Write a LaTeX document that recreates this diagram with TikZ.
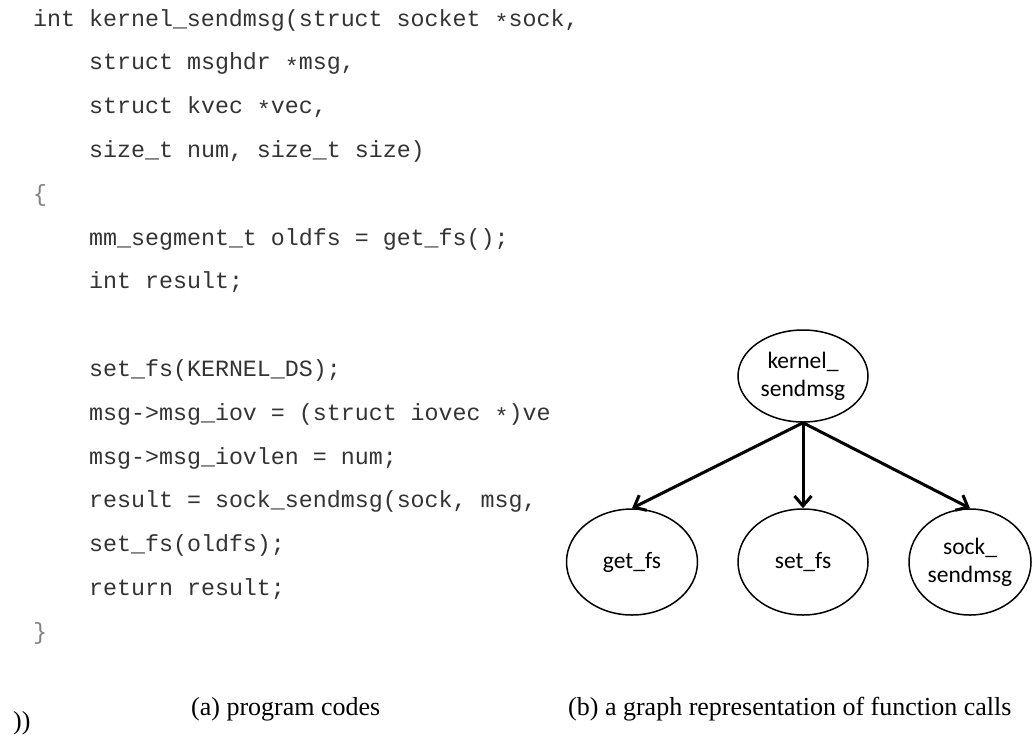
\documentclass[tikz,border=0pt]{standalone}
\usepackage{fontspec}
\setmainfont{Liberation Serif}
\setmonofont{Liberation Mono}
\newfontfamily\callfont{Carlito}
\usetikzlibrary{shapes.geometric,arrows.meta}

\newcommand\cstar{\raisebox{-0.35ex}{*}}

\tikzset{
  code/.style={anchor=base west, inner sep=0pt, text=black!80,
    font=\ttfamily\fontsize{23.3}{28}\selectfont},
  brace/.style={code, text=black!50},
  call/.style={ellipse, draw, line width=1.5pt, inner sep=0pt,
    minimum width=130pt, minimum height=106pt, align=center,
    font=\callfont\fontsize{23.5}{28}\selectfont},
  callarrow/.style={line width=3pt, -{Straight Barb[length=10pt,width=17pt]}},
  caption/.style={anchor=base west, inner sep=0pt,
    font=\fontsize{26}{30}\selectfont}
}

\begin{document}
\begin{tikzpicture}[x=1pt, y=-1pt]
  \useasboundingbox (0,0) rectangle (1032,742);

  % (a) the program text
  \node[code]  (l0)  at (33,26)    {int kernel\_sendmsg(struct socket \cstar sock,};
  \node[code]  (l1)  at (89,69.8)  {struct msghdr \cstar msg,};
  \node[code]  (l2)  at (89,113.6) {struct kvec \cstar vec,};
  \node[code]  (l3)  at (89,157.4) {size\_t num, size\_t size)};
  \node[brace] (l4)  at (33,201.2) {\{};
  \node[code]  (l5)  at (89,245)   {mm\_segment\_t oldfs = get\_fs();};
  \node[code]  (l6)  at (89,288.8) {int result;};
  % l7 is the empty line
  \node[code]  (l8)  at (89,376.4) {set\_fs(KERNEL\_DS);};
  \begin{scope}
    \clip (0,380) rectangle (548,530);
    \node[code] (l9)  at (89,420.2) {msg->msg\_iov = (struct iovec \cstar)ve};
    \node[code] (l11) at (89,507.8) {result = sock\_sendmsg(sock, msg,};
  \end{scope}
  \node[code]  (l10) at (89,464)   {msg->msg\_iovlen = num;};
  \node[code]  (l12) at (89,551.6) {set\_fs(oldfs);};
  \node[code]  (l13) at (89,595.4) {return result;};
  \node[brace] (l14) at (33,639.2) {\}};

  % (b) the call graph
  \node[call, minimum height=92pt] (kernel) at (803,376) {kernel\_\\sendmsg};
  \node[call, minimum width=131pt] (getfs) at (632,562) {get\_fs};
  \node[call] (setfs) at (803,562) {set\_fs};
  \node[call, minimum width=122pt] (sock) at (970,562) {sock\_\\sendmsg};

  \draw[callarrow] (kernel.south) -- (getfs.north);
  \draw[callarrow] (kernel.south) -- (setfs.north);
  \draw[callarrow] (kernel.south) -- (sock.north);

  % captions
  \node[caption] (stray) at (13,729) {))};
  \node[caption] (capa) at (191,715) {(a) program codes};
  \node[caption] (capb) at (568,715) {(b) a graph representation of function calls};
\end{tikzpicture}
\end{document}
